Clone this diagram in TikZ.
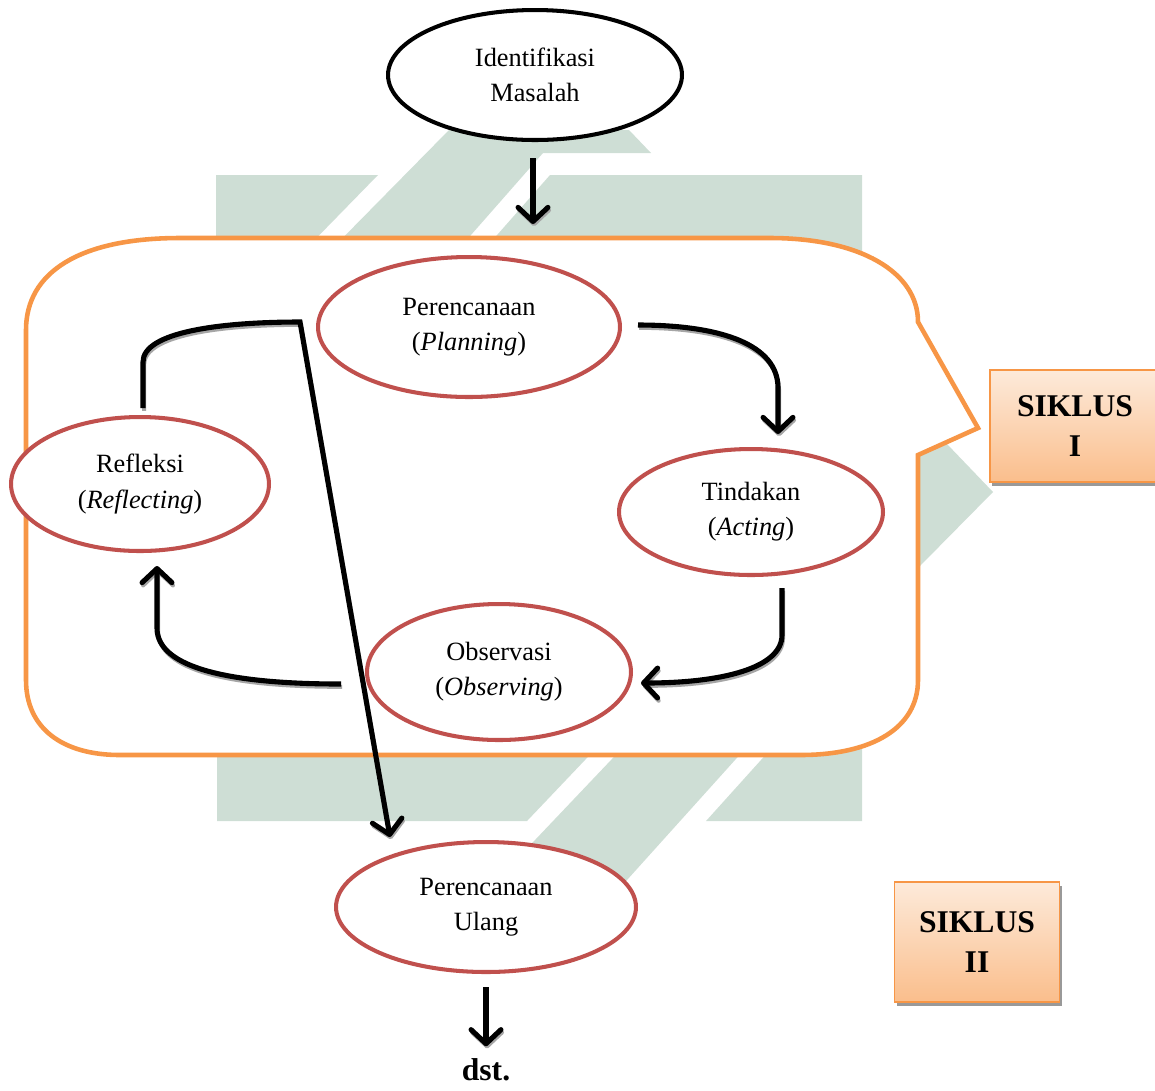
\documentclass[tikz,border=0pt]{standalone}
\usepackage{fontspec}
\setmainfont{Liberation Serif}
\usetikzlibrary{arrows.meta,calc,shapes.geometric,shadows}
\definecolor{cycleRed}{RGB}{192,80,77}
\definecolor{cycleOrange}{RGB}{247,150,70}
\definecolor{markGreen}{RGB}{206,222,213}
\definecolor{boxTop}{RGB}{253,234,218}
\definecolor{boxBottom}{RGB}{250,190,140}
\begin{document}
\begin{tikzpicture}[x=0.02cm, y=-0.02cm, line width=2.3pt,
	every node/.style={align=center, font=\fontsize{15}{20}\selectfont},
	stage/.style={ellipse, draw=cycleRed, fill=white, inner sep=0pt},
	flow/.style={-{Straight Barb[length=8pt,width=17pt,round]}, line width=2.9pt, preaction={draw=gray!70, transform canvas={shift={(0.6pt,-1.6pt)}}}},
	siklus/.style={rectangle, draw=cycleOrange, line width=1.1pt, top color=boxTop, bottom color=boxBottom, font=\fontsize{18}{23}\selectfont\bfseries, drop shadow={fill=gray!80, opacity=1, shadow xshift=1.5pt, shadow yshift=-2.2pt}}]
	\useasboundingbox (0,0) rectangle (1155,1090);
	\fill[markGreen] (216,175) -- (378,175) -- (295,260) -- (216,260) -- cycle;
	\fill[markGreen] (449,130) -- (629,130) -- (651,153) -- (543,153) -- (449,260) -- (321,260) -- cycle;
	\fill[markGreen] (550,175) -- (862,175) -- (862,260) -- (475,260) -- cycle;
	\fill[markGreen] (217,740) -- (604,740) -- (527,821) -- (217,821) -- cycle;
	\fill[markGreen] (630,740) -- (753,740) -- (609,900) -- (478,900) -- cycle;
	\fill[markGreen] (779,740) -- (862,740) -- (862,821) -- (706,821) -- cycle;
	\fill[markGreen] (918,455) -- (947,444) -- (993,492) -- (918,568) -- cycle;
	\draw[cycleOrange, fill=white, line width=2.6pt] (180,238) -- (770,238) .. controls (860,238) and (918,272) .. (918,322) -- (978,428) -- (918,455) -- (918,680) .. controls (918,728) and (872,755) .. (800,755) -- (120,755) .. controls (62,755) and (26,728) .. (26,680) -- (26,330) .. controls (26,272) and (80,238) .. (180,238) -- cycle;
	\node[draw, ellipse, fill=white, inner sep=0pt, minimum width=5.88cm, minimum height=2.6cm] (identNode) at (535,75) {Identifikasi\\Masalah};
	\node[stage, minimum width=6.04cm, minimum height=2.8cm] (planNode) at (469,327) {Perencanaan\\(\textit{Planning})};
	\node[stage, minimum width=5.28cm, minimum height=2.52cm] (actNode) at (751,512) {Tindakan\\(\textit{Acting})};
	\node[stage, minimum width=5.28cm, minimum height=2.72cm] (obsNode) at (499,672) {Observasi\\(\textit{Observing})};
	\node[stage, minimum width=5.16cm, minimum height=2.68cm] (reflNode) at (140,484) {Refleksi\\(\textit{Reflecting})};
	\node[stage, minimum width=6cm, minimum height=2.6cm] (ulangNode) at (486,907) {Perencanaan\\Ulang};
	\node[siklus, minimum width=3.42cm, minimum height=2.24cm] (siklusA) at (1075,426) {SIKLUS\\I};
	\node[siklus, minimum width=3.3cm, minimum height=2.4cm] (siklusB) at (977,942) {SIKLUS\\II};
	\node[font=\fontsize{18}{22}\selectfont\bfseries, inner sep=6pt] (dstText) at (486,1070) {dst.};
	\coordinate (orangeTop) at (533,224);
	\draw[flow] ($(identNode.south)+(-2,16)$) -- (orangeTop);
	\draw[flow] ($(planNode.east)+(16,-2)$) .. controls (722,325) and (778,345) .. (778,388) -- ($(actNode.north)+(27,-13)$);
	\draw[flow] ($(actNode.south)+(31,11)$) -- (782,635) .. controls (782,668) and (722,683) .. ($(obsNode.east)+(8,11)$);
	\draw[flow] ($(obsNode.west)+(-24,12)$) .. controls (230,684) and (157,668) .. (157,628) -- ($(reflNode.south)+(17,13)$);
	\draw[flow] ($(reflNode.north)+(3,-7)$) -- (143,362) .. controls (143,332) and (220,322) .. (300,322) -- ($(ulangNode.north)+(-96,-3)$);
	\draw[flow] ($(ulangNode.south)+(0,13)$) -- (dstText);
\end{tikzpicture}
\end{document}
